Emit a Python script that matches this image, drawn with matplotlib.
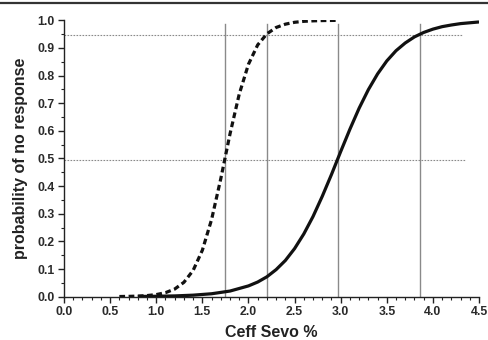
import matplotlib
matplotlib.use("Agg")
import matplotlib.pyplot as plt
from matplotlib.lines import Line2D
from matplotlib.ticker import MultipleLocator

plt.rcParams['font.family'] = ['Liberation Sans', 'DejaVu Sans']

# Dashed curve (left)
dashed_x = [0.6, 0.7, 0.8, 0.9, 1.0, 1.1, 1.2, 1.3, 1.4, 1.5, 1.6, 1.7, 1.75, 1.8,
            1.9, 2.0, 2.1, 2.2, 2.3, 2.4, 2.5, 2.6, 2.7, 2.8, 2.9, 2.97]
dashed_y = [0.0006, 0.0011, 0.0021, 0.004, 0.0076, 0.0145, 0.0276, 0.052, 0.095,
            0.168, 0.279, 0.427, 0.508, 0.589, 0.733, 0.841, 0.911, 0.951, 0.974,
            0.986, 0.9928, 0.9963, 0.998, 0.999, 0.9995, 0.9997]

# Solid curve (right)
solid_x = [0.8, 1.0, 1.2, 1.4, 1.6, 1.8, 2.0, 2.1, 2.2, 2.3, 2.4, 2.5, 2.6, 2.7, 2.8,
           2.9, 3.0, 3.1, 3.2, 3.3, 3.4, 3.5, 3.6, 3.7, 3.8, 3.9, 4.0, 4.1, 4.2,
           4.3, 4.4, 4.5]
solid_y = [0.0008, 0.0015, 0.0028, 0.0055, 0.0106, 0.0204, 0.039, 0.053, 0.072,
           0.098, 0.131, 0.174, 0.227, 0.290, 0.363, 0.442, 0.525, 0.606, 0.682,
           0.749, 0.806, 0.853, 0.890, 0.918, 0.940, 0.956, 0.968, 0.977, 0.983,
           0.988, 0.991, 0.994]

# Reference lines
vlines_x = [1.745, 2.2, 2.975, 3.86]
vline_top = 0.985
hlines_y = [0.945, 0.495]
hlines_xmax = [4.33, 4.35]

x_ticks = [0.0, 0.5, 1.0, 1.5, 2.0, 2.5, 3.0, 3.5, 4.0, 4.5]
y_ticks = [0.0, 0.1, 0.2, 0.3, 0.4, 0.5, 0.6, 0.7, 0.8, 0.9, 1.0]

fig = plt.figure(figsize=(4.89, 3.40), dpi=100)
ax = fig.add_axes([0.1309, 0.1274, 0.8487, 0.8129])

for xv in vlines_x:
    ax.plot([xv, xv], [0, vline_top], color='#8a8a8a', lw=1.0, zorder=1)
for yv, xm in zip(hlines_y, hlines_xmax):
    ax.plot([0, xm], [yv, yv], color='#8a8a8a', lw=0.8, ls=(0, (1.5, 1.2)), zorder=1)

ax.plot(dashed_x, dashed_y, color='#111111', lw=2.3, ls=(0, (1.8, 1.1)), zorder=3)
ax.plot(solid_x, solid_y, color='#111111', lw=2.3, zorder=3, solid_capstyle='butt')

ax.set_xlim(0, 4.5)
ax.set_ylim(0, 1.0)
ax.set_xticks(x_ticks)
ax.set_yticks(y_ticks)
ax.set_xticklabels([f"{v:.1f}" for v in x_ticks])
ax.set_yticklabels([f"{v:.1f}" for v in y_ticks])
ax.xaxis.set_minor_locator(MultipleLocator(0.1))
ax.yaxis.set_minor_locator(MultipleLocator(0.05))

for s in ['top', 'right']:
    ax.spines[s].set_visible(False)
for s in ['left', 'bottom']:
    ax.spines[s].set_linewidth(1.0)
    ax.spines[s].set_color('#222222')

ax.tick_params(axis='both', which='major', direction='out', length=4, width=1.0,
               color='#222222', labelsize=8.8, pad=2.5, labelcolor='#2a2a2a')
ax.tick_params(axis='both', which='minor', direction='out', length=2.5, width=0.8,
               color='#222222')
for lbl in ax.get_xticklabels() + ax.get_yticklabels():
    lbl.set_fontweight('bold')

ax.set_xlabel('Ceff Sevo %', fontsize=11.5, fontweight='bold', color='#222222', labelpad=5)
ax.set_ylabel('probability of no response', fontsize=11.5, fontweight='bold',
              color='#222222', labelpad=7)

fig.add_artist(Line2D([0, 1], [0.991, 0.991], transform=fig.transFigure,
                      color='#333333', lw=1.6))

fig.savefig('out.png', dpi=100)
